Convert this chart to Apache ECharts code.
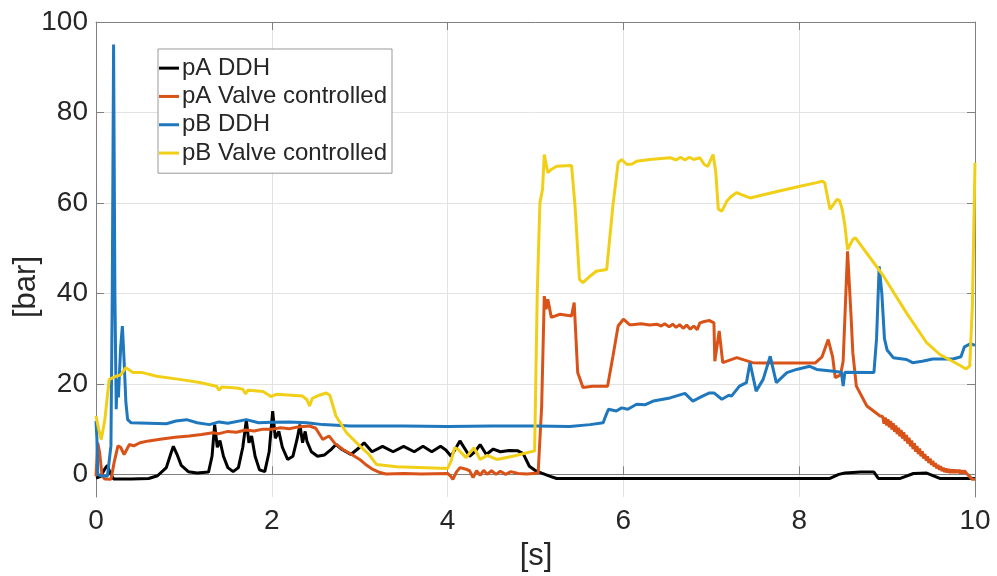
<!DOCTYPE html>
<html><head><meta charset="utf-8">
<script src="https://cdn.jsdelivr.net/npm/echarts@6/dist/echarts.min.js"></script>
<style>html,body{margin:0;padding:0;background:#fff}#c{width:997px;height:576px}</style>
</head><body><div id="c"></div><script>
const seriesNames = ['pA DDH', 'pA Valve controlled', 'pB DDH', 'pB Valve controlled'];
const xTickLabels = ['0', '2', '4', '6', '8', '10'];
const yTickLabels = ['0', '20', '40', '60', '80', '100'];
const xAxisTitle = '[s]';
const yAxisTitle = '[bar]';

const pA_DDH = [[0,-0.8],[0.05,-0.5],[0.1,1.2],[0.13,2.0],[0.16,0.3],[0.2,-1],[0.4,-1],[0.6,-0.9],[0.7,-0.3],[0.8,1.5],[0.85,4.5],[0.88,6.2],[0.92,4.5],[0.97,2.0],[1.05,0.6],[1.15,0.3],[1.28,0.5],[1.32,4],[1.35,11],[1.38,6],[1.41,7.5],[1.45,4],[1.5,1.5],[1.56,0.6],[1.62,1.5],[1.67,6],[1.71,12],[1.74,7],[1.77,8.5],[1.81,4],[1.86,1],[1.92,0.6],[1.97,5],[2.01,14],[2.04,8],[2.08,9.5],[2.12,6],[2.18,3.3],[2.24,4],[2.29,8],[2.32,11],[2.35,7],[2.38,9.5],[2.4,7.3],[2.45,5],[2.52,4],[2.6,4.3],[2.68,5.6],[2.73,6.6],[2.8,5.5],[2.9,4.4],[3.0,6.0],[3.05,7.0],[3.14,5.0],[3.26,6.2],[3.38,5.0],[3.5,6.2],[3.62,5.0],[3.72,6.2],[3.82,5.0],[3.92,6.2],[3.98,5.4],[4.04,4.0],[4.14,7.4],[4.25,4.0],[4.31,5.0],[4.37,6.6],[4.44,4.4],[4.52,5.6],[4.6,5.0],[4.7,5.3],[4.8,5.2],[4.86,4.6],[4.93,1.8],[5.01,0.7],[5.16,-0.4],[5.24,-0.9],[6,-0.9],[7,-0.9],[8,-0.9],[8.35,-0.9],[8.45,0],[8.52,0.3],[8.7,0.5],[8.85,0.5],[8.9,-0.9],[9.15,-0.9],[9.3,0.2],[9.45,0.3],[9.6,-0.9],[10,-0.9]];

const pA_Valve = [[0,-0.4],[0.02,7],[0.04,5],[0.07,-0.4],[0.1,-1.0],[0.17,-1.1],[0.21,3],[0.25,6.3],[0.28,6.0],[0.32,4.4],[0.38,6.6],[0.43,6.3],[0.5,7.0],[0.6,7.4],[0.75,7.8],[0.9,8.2],[1.06,8.5],[1.2,8.8],[1.33,9.2],[1.4,9.0],[1.5,9.5],[1.6,9.3],[1.7,9.8],[1.8,9.6],[1.9,10],[2.01,10],[2.1,10.3],[2.2,10.1],[2.3,10.5],[2.43,10.7],[2.5,10.2],[2.58,7.7],[2.65,8.5],[2.72,6.8],[2.81,5.5],[2.9,4.5],[3.0,3.3],[3.08,2.0],[3.15,1.1],[3.23,0.4],[3.3,0.1],[3.5,0.2],[3.7,0.1],[4.0,0.2],[4.03,-0.3],[4.06,-1.1],[4.1,0.5],[4.14,1.5],[4.2,1.2],[4.25,0.8],[4.29,-0.7],[4.33,0.8],[4.37,-0.2],[4.41,0.9],[4.45,0],[4.5,0.8],[4.55,0],[4.6,0.7],[4.66,0],[4.72,0.6],[4.8,0.2],[4.9,0.1],[5.03,0.3],[5.07,15],[5.1,39.4],[5.12,36.5],[5.14,38.7],[5.18,34.7],[5.28,35.4],[5.41,35],[5.44,38],[5.48,22.5],[5.54,19.2],[5.65,19.5],[5.82,19.5],[5.88,26],[5.94,32.8],[6.0,34.3],[6.07,33.1],[6.1,33.1],[6.2,33.3],[6.3,33.0],[6.38,33.2],[6.43,32.8],[6.47,33.3],[6.52,32.6],[6.56,33.2],[6.6,32.5],[6.64,33.1],[6.68,32.3],[6.72,33.0],[6.76,32.1],[6.8,32.8],[6.84,32.0],[6.87,33.5],[6.92,33.8],[6.98,34.0],[7.03,33.5],[7.04,25],[7.09,31.7],[7.13,24.7],[7.29,25.8],[7.47,24.7],[7.6,24.6],[8.18,24.6],[8.26,26],[8.33,29.8],[8.38,26],[8.41,21.4],[8.47,22],[8.5,25],[8.55,49.3],[8.59,35],[8.61,26.9],[8.65,19.5],[8.77,15.1],[8.92,12.9],[8.95,12.8],[8.965,11.2],[8.98,12.6],[8.995,10.8],[9.01,12.2],[9.025,10.4],[9.04,11.8],[9.055,9.9],[9.07,11.3],[9.085,9.4],[9.1,10.8],[9.115,8.9],[9.13,10.3],[9.145,8.4],[9.16,9.8],[9.175,7.9],[9.19,9.3],[9.205,7.4],[9.22,8.7],[9.235,6.8],[9.25,8.1],[9.265,6.2],[9.28,7.5],[9.295,5.6],[9.31,6.9],[9.325,5.0],[9.34,6.3],[9.355,4.5],[9.37,5.7],[9.385,4.0],[9.4,5.1],[9.415,3.5],[9.43,4.5],[9.445,3.0],[9.46,4.0],[9.475,2.5],[9.49,3.5],[9.505,2.1],[9.52,3.0],[9.535,1.7],[9.55,2.5],[9.565,1.3],[9.58,2.1],[9.595,1.0],[9.61,1.8],[9.625,0.7],[9.64,1.5],[9.655,0.5],[9.67,1.3],[9.685,0.4],[9.7,1.2],[9.715,0.3],[9.73,1.1],[9.745,0.3],[9.76,1.1],[9.775,0.3],[9.79,1.0],[9.805,0.3],[9.82,1.0],[9.835,0.2],[9.85,0.9],[9.865,0.2],[9.88,0.8],[9.9,0.3],[9.94,-0.5],[9.97,-1.1],[10,-1.1]];

const pB_DDH = [[0,11.8],[0.01,8],[0.02,0],[0.05,-0.3],[0.13,-0.4],[0.17,6.3],[0.185,40],[0.2,95],[0.215,40],[0.23,14.4],[0.24,21],[0.255,17],[0.28,28],[0.3,32.8],[0.32,25],[0.34,15.9],[0.36,12.1],[0.4,11.4],[0.6,11.3],[0.8,11.2],[0.91,11.8],[1.03,12.1],[1.15,11.4],[1.29,11.0],[1.4,11.6],[1.5,11.3],[1.71,12.1],[1.85,11.4],[2.0,11.5],[2.2,11.6],[2.4,11.4],[2.58,11],[2.89,10.7],[3.5,10.7],[4,10.6],[4.5,10.7],[5,10.7],[5.39,10.6],[5.62,11],[5.77,11.4],[5.8,13],[5.83,14.4],[5.92,14],[5.98,14.7],[6.05,14.4],[6.15,15.5],[6.25,15.4],[6.34,16.2],[6.53,16.9],[6.7,17.9],[6.79,16.2],[6.9,17.3],[6.98,18.0],[7.03,18],[7.12,16.6],[7.2,17.5],[7.23,17.3],[7.32,19.5],[7.4,20.3],[7.44,24.7],[7.51,18.4],[7.59,21],[7.67,26.1],[7.74,20.3],[7.86,22.5],[7.97,23.2],[8.12,23.9],[8.2,23.2],[8.39,22.8],[8.48,22.6],[8.5,19.5],[8.52,22.6],[8.85,22.5],[8.88,30],[8.91,46],[8.94,40],[8.97,30],[9.0,27.5],[9.07,25.8],[9.22,25.4],[9.29,24.7],[9.4,25],[9.52,25.5],[9.75,25.5],[9.84,26],[9.88,28.2],[9.95,28.9],[10,28.5]];

const pB_Valve = [[0,12.9],[0.03,10],[0.06,7.7],[0.1,12],[0.15,21],[0.23,21.7],[0.28,22],[0.34,23.6],[0.42,22.5],[0.53,22.5],[0.69,21.7],[0.95,21],[1.18,20.3],[1.37,19.5],[1.4,18.6],[1.43,19.3],[1.6,19.1],[1.67,18.8],[1.7,17.8],[1.73,18.6],[1.9,18.3],[1.99,17.2],[2.05,17.7],[2.35,17.3],[2.4,16.5],[2.43,15.1],[2.46,16.8],[2.54,17.5],[2.62,18],[2.66,17.5],[2.73,12.9],[2.85,9.2],[3.0,6.3],[3.1,4.5],[3.19,2.2],[3.42,1.7],[4.0,1.3],[4.04,3],[4.08,5.9],[4.12,5.5],[4.21,3.7],[4.3,5.9],[4.37,3.3],[4.45,4.2],[4.56,3.3],[4.74,4],[4.99,5.2],[5.02,40],[5.05,60],[5.08,63],[5.1,70.7],[5.14,66.7],[5.18,67.4],[5.24,68.1],[5.41,68.3],[5.45,59.3],[5.5,43.1],[5.54,42.4],[5.62,43.8],[5.69,44.9],[5.81,45.3],[5.88,59.3],[5.94,68.9],[5.98,69.6],[6.04,68.5],[6.1,68.6],[6.15,69.2],[6.3,69.6],[6.53,70],[6.6,69.5],[6.65,70.1],[6.7,69.5],[6.75,70.1],[6.8,69.6],[6.87,70],[6.92,68.5],[6.96,68.1],[7.02,70.7],[7.05,67],[7.08,58.6],[7.12,58.2],[7.18,60.5],[7.23,61.5],[7.29,62.3],[7.35,61.8],[7.44,61.1],[7.7,62.3],[8.01,63.7],[8.2,64.5],[8.26,64.8],[8.29,64.5],[8.35,58.6],[8.43,60.8],[8.46,60.5],[8.49,58.5],[8.52,55],[8.55,49.7],[8.61,51.9],[8.64,52.3],[8.92,44.9],[8.96,43.8],[9.22,35.7],[9.45,29.1],[9.6,26.5],[9.79,24.5],[9.9,23.3],[9.94,24],[9.97,37.2],[10,68.9]];

const colors = ['#000000', '#D95319', '#1F77BD', '#F2CF17'];
const dataSets = [pA_DDH, pA_Valve, pB_DDH, pB_Valve];

const font = '"Liberation Sans", Arial, Helvetica, sans-serif';
const chart = echarts.init(document.getElementById('c'), null, {renderer: 'canvas'});
const axisLineStyle = {color: '#808080', width: 1};
const commonX = {type: 'value', min: 0, max: 10, interval: 2};
const commonY = {type: 'value', min: -5, max: 100, interval: 20};
const yTickVals = [0, 20, 40, 60, 80, 100];

chart.setOption({
  animation: false,
  backgroundColor: '#ffffff',
  grid: {left: 96, right: 22, top: 22, bottom: 79, containLabel: false},
  legend: {
    orient: 'vertical', left: 158, top: 49,
    data: seriesNames,
    icon: 'rect', itemWidth: 20, itemHeight: 3, itemGap: 0,
    padding: [5, 5, 6, 1],
    backgroundColor: '#ffffff', borderColor: '#999999', borderWidth: 1,
    textStyle: {fontFamily: font, fontSize: 24, color: '#262626', lineHeight: 28.3, padding: [0, 0, 0, -2]}
  },
  xAxis: [
    Object.assign({}, commonX, {
      position: 'bottom',
      axisLine: {show: true, lineStyle: axisLineStyle},
      axisTick: {show: true, inside: true, length: 8, lineStyle: axisLineStyle},
      axisLabel: {fontFamily: font, fontSize: 28, color: '#262626', margin: 10,
        formatter: v => xTickLabels[Math.round(v / 2)]},
      splitLine: {show: true, lineStyle: {color: '#e3e3e3', width: 1}}
    }),
    Object.assign({}, commonX, {
      position: 'top',
      axisLine: {show: true, lineStyle: axisLineStyle, onZero: false},
      axisTick: {show: true, inside: true, length: 8, lineStyle: axisLineStyle},
      axisLabel: {show: false}, splitLine: {show: false}
    })
  ],
  yAxis: [
    Object.assign({}, commonY, {
      position: 'left',
      axisLine: {show: true, lineStyle: axisLineStyle, onZero: false},
      axisTick: {show: true, inside: true, length: 8, lineStyle: axisLineStyle, customValues: yTickVals},
      axisLabel: {fontFamily: font, fontSize: 28, color: '#262626', margin: 8, customValues: yTickVals,
        formatter: v => yTickLabels[Math.round(v / 20)]},
      splitLine: {show: true, lineStyle: {color: '#e3e3e3', width: 1}}
    }),
    Object.assign({}, commonY, {
      position: 'right',
      axisLine: {show: true, lineStyle: axisLineStyle, onZero: false},
      axisTick: {show: true, inside: true, length: 8, lineStyle: axisLineStyle, customValues: yTickVals},
      axisLabel: {show: false}, splitLine: {show: false}
    })
  ],
  graphic: [
    {type: 'text', x: 536, y: 556, style: {text: xAxisTitle, font: '31px ' + font, fill: '#262626', textAlign: 'center', textVerticalAlign: 'middle'}},
    {type: 'text', x: 26, y: 287, rotation: Math.PI / 2, style: {text: yAxisTitle, font: '31px ' + font, fill: '#262626', textAlign: 'center', textVerticalAlign: 'middle'}}
  ],
  series: seriesNames.map((n, i) => ({
    name: n, type: 'line', data: dataSets[i], xAxisIndex: 0, yAxisIndex: 0,
    showSymbol: false, symbol: 'none', smooth: false,
    lineStyle: {color: colors[i], width: 3}, itemStyle: {color: colors[i]},
    z: 2 + i
  }))
});
</script></body></html>
